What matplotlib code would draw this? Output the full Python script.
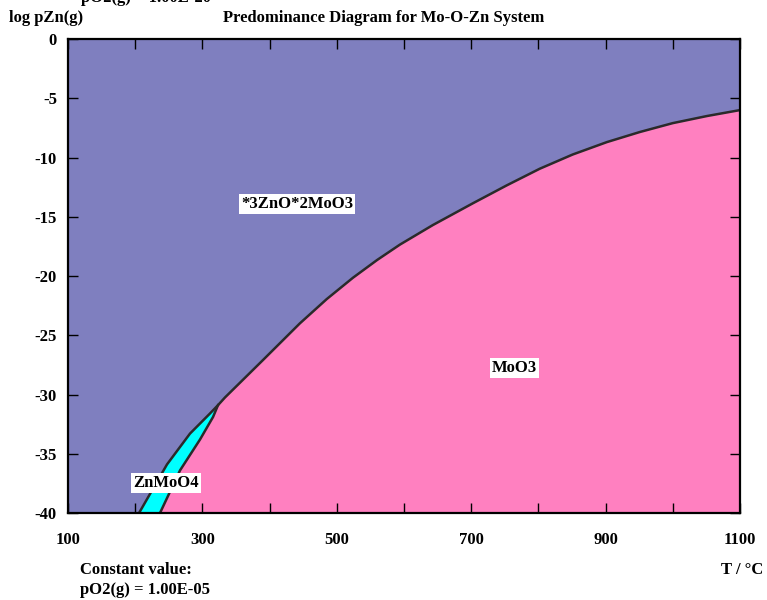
"""Predominance diagram for the Mo-O-Zn system at constant pO2."""
import matplotlib
matplotlib.use('Agg')
import matplotlib.pyplot as plt
import numpy as np

# Blue field (*3ZnO*2MoO3) boundary against ZnMoO4 / MoO3
T_UPPER = [205.7, 247.3, 281.5, 311.3, 323.2, 333.6, 356.0, 390.0, 445.0,
           485.0, 524.0, 560.0, 594.0, 643.0, 703.0, 753.0, 802.0, 851.0,
           902.0, 951.0, 1000.0, 1051.0, 1100.0]
LOGP_UPPER = [-40.0, -35.9, -33.3, -31.6, -30.9, -30.25, -29.0, -27.1, -24.0,
              -21.95, -20.15, -18.65, -17.35, -15.7, -13.85, -12.35, -10.95,
              -9.75, -8.7, -7.85, -7.1, -6.5, -6.0]

# ZnMoO4 / MoO3 boundary
T_ZN = [236.9, 266.7, 296.4, 315.8, 323.2]
LOGP_ZN = [-40.0, -36.4, -33.8, -31.9, -30.9]

XMIN, XMAX = 100, 1100
YMIN, YMAX = -40, 0
XLABELS = [100, 300, 500, 700, 900, 1100]

FIELDS = [('*3ZnO*2MoO3', 441, -13.9),
          ('MoO3', 764, -27.8),
          ('ZnMoO4', 246, -37.5)]

BLUE = '#7f7fbf'
PINK = '#ff80c0'
CYAN = '#00ffff'
FS = 12

plt.rcParams['font.family'] = 'Liberation Serif'
plt.rcParams['font.weight'] = 'bold'
plt.rcParams['font.size'] = FS


def main():
    fig = plt.figure(figsize=(7.67, 6.0), dpi=100)
    ax = fig.add_axes([0.0887, 0.145, 0.876, 0.790])
    ax.set_xlim(XMIN, XMAX)
    ax.set_ylim(YMIN, YMAX)
    ax.set_facecolor(BLUE)

    tu = np.array(T_UPPER)
    lu = np.array(LOGP_UPPER)
    tz = np.array(T_ZN)
    lz = np.array(LOGP_ZN)

    # Cyan ZnMoO4 sliver: left edge up to apex, back down the right edge
    k = len(tz)
    cx = np.concatenate([tu[:k], tz[::-1]])
    cy = np.concatenate([lu[:k], lz[::-1]])
    ax.fill(cx, cy, color=CYAN, lw=0, zorder=1)

    # Pink MoO3 field
    px = np.concatenate([tz, tu[k:], [XMAX, tz[0]]])
    py = np.concatenate([lz, lu[k:], [YMIN, YMIN]])
    ax.fill(px, py, color=PINK, lw=0, zorder=1)

    # Boundaries
    ax.plot(tu, lu, color='#2a2a2a', lw=1.8, zorder=2)
    ax.plot(tz, lz, color='#2a2a2a', lw=1.8, zorder=2)

    for name, t, lp in FIELDS:
        ax.text(t, lp, name, ha='center', va='center', fontsize=FS,
                fontweight='bold', zorder=4,
                bbox=dict(facecolor='white', edgecolor='none', pad=1.5))

    # Ticks
    ax.set_xticks(np.arange(XMIN, XMAX + 1, 100))
    ax.set_xticklabels([str(v) if v in XLABELS else '' for v in
                        range(XMIN, XMAX + 1, 100)])
    ax.set_yticks(np.arange(YMIN, YMAX + 1, 5))
    ax.set_yticklabels([str(v) for v in range(YMIN, YMAX + 1, 5)])
    ax.tick_params(direction='in', length=7, width=1, top=True, right=True,
                   labelsize=FS)
    ax.tick_params(axis='x', pad=14)
    ax.tick_params(axis='y', pad=8)
    for s in ax.spines.values():
        s.set_linewidth(1.6)
        s.set_zorder(5)

    # Labels around the frame
    fig.text(0.012, 0.970, 'log pZn(g)', ha='left', va='center',
             fontsize=FS, fontweight='bold')
    fig.text(0.50, 0.970, 'Predominance Diagram for Mo-O-Zn System',
             ha='center', va='center', fontsize=FS, fontweight='bold')
    # first line of a header that is cut off by the top edge
    fig.text(0.19, 1.004, 'pO2(g) = 1.00E-20', ha='center', va='center',
             fontsize=FS, fontweight='bold')
    fig.text(0.104, 0.050, 'Constant value:', ha='left', va='center',
             fontsize=FS, fontweight='bold')
    fig.text(0.104, 0.017, 'pO2(g) = 1.00E-05', ha='left', va='center',
             fontsize=FS, fontweight='bold')
    fig.text(0.995, 0.050, 'T / \u00b0C', ha='right', va='center',
             fontsize=FS, fontweight='bold')

    fig.savefig('out.png', dpi=100)


if __name__ == '__main__':
    main()
